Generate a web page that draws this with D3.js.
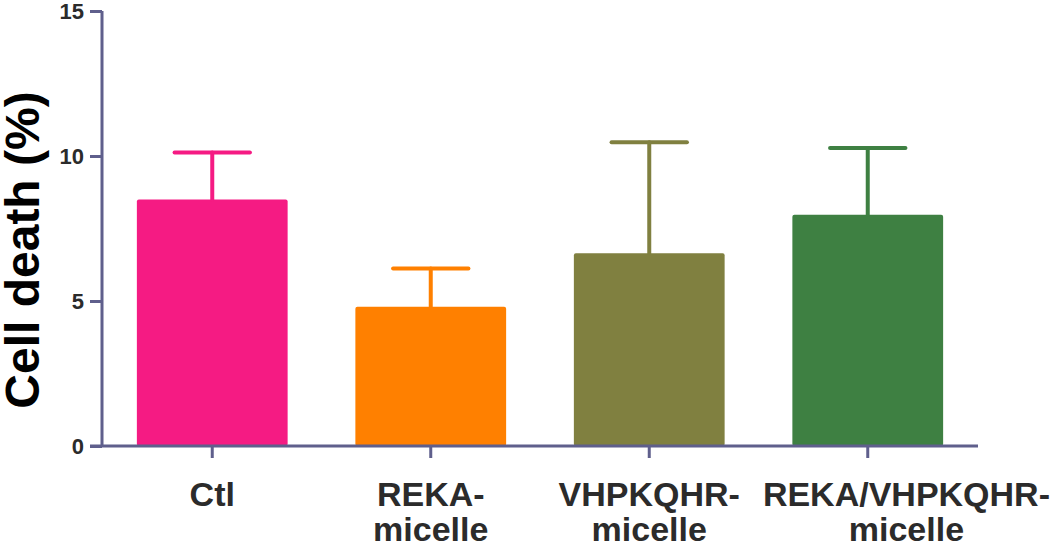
<!DOCTYPE html>
<html>
<head>
<meta charset="utf-8">
<script src="https://cdn.jsdelivr.net/npm/d3@7"></script>
<style>
  html, body { margin: 0; padding: 0; background: #fff; }
  svg { display: block; }
</style>
</head>
<body>
<svg id="chart" width="1050" height="548"></svg>
<script>
// data
const groups = [['Ctl'], ['REKA-', 'micelle'], ['VHPKQHR-', 'micelle'], ['REKA/VHPKQHR-', 'micelle']];
const means = [8.5, 4.8, 6.65, 7.97];
const errTop = [10.12, 6.12, 10.47, 10.28];
const colors = ['#f51b83', '#ff8000', '#808040', '#3e8042'];
const yTicks = [0, 5, 10, 15];

const width = 1050, height = 548;
const axisColor = '#5f5f8c';
const textColor = '#2b2b2b';
const font = '"Liberation Sans", Arial, sans-serif';

let svg = d3.select('#chart');

let x = d3.scaleBand()
    .domain(d3.range(groups.length))
    .range([103, 977])
    .paddingInner(0.31)
    .paddingOuter(0.155);
let y = d3.scaleLinear()
    .domain([0, 15])
    .range([446, 11]);

let bw = x.bandwidth();

// bars
svg.append('g').selectAll('rect')
    .data(means)
    .join('rect')
    .attr('x', (d, i) => x(i))
    .attr('y', d => y(d))
    .attr('width', bw)
    .attr('height', d => y(0) - y(d))
    .attr('rx', 2)
    .style('fill', (d, i) => colors[i]);

// error bars (upper only)
let err = svg.append('g').selectAll('g')
    .data(means)
    .join('g')
    .style('stroke', (d, i) => colors[i])
    .style('stroke-width', 4)
    .style('stroke-linecap', 'round');
err.append('line')
    .attr('x1', (d, i) => x(i) + bw / 2)
    .attr('x2', (d, i) => x(i) + bw / 2)
    .attr('y1', d => y(d))
    .attr('y2', (d, i) => y(errTop[i]));
err.append('line')
    .attr('x1', (d, i) => x(i) + bw / 4)
    .attr('x2', (d, i) => x(i) + bw * 3 / 4)
    .attr('y1', (d, i) => y(errTop[i]))
    .attr('y2', (d, i) => y(errTop[i]));

// y axis
let yAxis = d3.axisLeft(y).tickValues(yTicks).tickSize(12).tickPadding(6);
let gy = svg.append('g')
    .attr('transform', 'translate(102,0)')
    .call(yAxis);
gy.select('.domain').attr('d', `M0,${y(15)}V${y(0)}`);
gy.selectAll('.domain, line').style('stroke', axisColor).style('stroke-width', 3);
gy.selectAll('text')
    .style('font-family', font)
    .style('font-weight', 'bold')
    .style('font-size', '22px')
    .style('fill', textColor);

// x axis
let xLine = svg.append('g');
xLine.append('line')
    .attr('x1', 90).attr('x2', 978)
    .attr('y1', y(0)).attr('y2', y(0))
    .style('stroke', axisColor).style('stroke-width', 3);
xLine.selectAll('.tick')
    .data(groups)
    .join('line')
    .attr('x1', (d, i) => x(i) + bw / 2)
    .attr('x2', (d, i) => x(i) + bw / 2)
    .attr('y1', y(0))
    .attr('y2', y(0) + 12)
    .style('stroke', axisColor).style('stroke-width', 3);

// category labels: centred under ticks, pushed right if they collide
// with the previous one, then kept inside the right edge
let labels = svg.append('g').selectAll('text')
    .data(groups)
    .join('text')
    .attr('text-anchor', 'middle')
    .style('font-family', font)
    .style('font-weight', 'bold')
    .style('font-size', '34px')
    .style('fill', textColor);
let prevRight = -Infinity;
labels.each(function(d, i) {
    let t = d3.select(this);
    d.forEach((line, j) => {
        t.append('tspan')
            .attr('x', 0)
            .attr('y', 506 + j * 35)
            .text(line);
    });
    let w = this.getBBox().width;
    let cx = x(i) + bw / 2;
    if (cx - w / 2 < prevRight + 30) cx = prevRight + 30 + w / 2;
    if (cx + w / 2 > width) cx = width - w / 2;
    prevRight = cx + w / 2;
    t.attr('transform', `translate(${cx},0)`);
});

// y title
svg.append('text')
    .attr('transform', 'translate(39,250) rotate(-90)')
    .attr('text-anchor', 'middle')
    .style('font-family', font)
    .style('font-weight', 'bold')
    .style('font-size', '48px')
    .style('fill', '#000')
    .text('Cell death (%)');
</script>
</body>
</html>
